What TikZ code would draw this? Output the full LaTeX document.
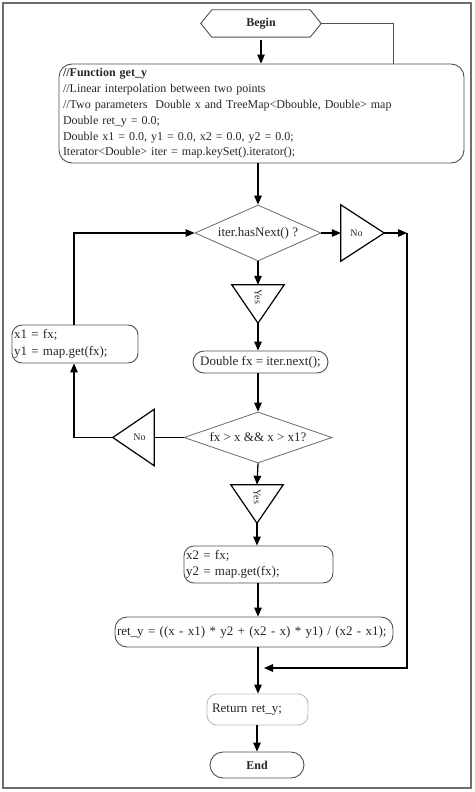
\documentclass[tikz,border=0pt]{standalone}
\usepackage{fontspec}
\setmainfont{Liberation Serif}
\usetikzlibrary{arrows.meta,shapes.geometric,shapes.misc}
\definecolor{framec}{HTML}{6E6E6E}
\definecolor{boxc}{HTML}{505050}
\definecolor{diac}{HTML}{6A6A6A}
\definecolor{lightc}{HTML}{BDBDBD}
\definecolor{textc}{HTML}{262626}
\begin{document}
\begin{tikzpicture}[x=1pt,y=-1pt,
  every node/.style={font=\fontsize{13}{16.5}\selectfont, inner sep=0pt, text=textc},
  box/.style={draw=boxc, line width=0.9pt, rounded corners=10pt, align=left, inner xsep=2pt},
  pill/.style={draw=boxc, line width=0.9pt, rounded rectangle},
  dia/.style={draw=diac, line width=0.8pt, diamond},
  tri/.style={draw=none, inner sep=0pt},
  triline/.style={draw=black, line width=1.2pt, line join=miter},
  conn/.style={draw=black, line width=1.3pt},
  arr/.style={conn, -{Triangle[length=9pt,width=7.5pt]}},
  small/.style={font=\fontsize{10}{11}\selectfont},
]
\useasboundingbox (0,0) rectangle (474,792);
\draw[draw=framec, line width=2pt] (3,3) rectangle (471,788);

% Begin
\node[tri, minimum width=120pt, minimum height=27pt, font=\fontsize{12}{14}\selectfont\bfseries] (begin) at (261,23.5) {Begin};
\draw[draw=boxc, line width=0.9pt] ([xshift=11pt]begin.north west) -- ([xshift=-11pt]begin.north east) -- (begin.east)
  -- ([xshift=-11pt]begin.south east) -- ([xshift=11pt]begin.south west) -- (begin.west) -- cycle;

% Function box
\node[box, rounded corners=13pt, minimum height=99pt, text width=397pt, inner xsep=4pt, font=\fontsize{12}{15.8}\selectfont] (func) at (261.5,113.5) {%
\textbf{//Function get\_y}\\
//Linear interpolation between two points\\
//Two parameters\ \ Double x and TreeMap<Dbouble, Double> map\\
Double ret\_y = 0.0;\\
Double x1 = 0.0, y1 = 0.0, x2 = 0.0, y2 = 0.0;\\
Iterator<Double> iter = map.keySet().iterator();};

% Diamond 1
\node[dia, aspect=2.25, minimum width=126pt, minimum height=56pt] (d1) at (258,233) {iter.hasNext() ?};

% No triangle 1
\node[tri, minimum width=43pt, minimum height=56pt] (no1) at (362.5,233) {};
\draw[triline] (no1.north west) -- (no1.east) -- (no1.south west) -- cycle;
\node[small] (no1t) at ([xshift=-6pt]no1.center) {No};

% Yes triangle 1
\node[tri, minimum width=52pt, minimum height=38pt] (yes1) at (258,304) {};
\draw[triline] (yes1.north west) -- (yes1.north east) -- (yes1.south) -- cycle;
\node[small, rotate=-90] (yes1t) at ([yshift=7pt]yes1.center) {Yes};

% fx box
\node[pill, minimum width=135pt, minimum height=22pt] (fx) at (260.5,362) {Double fx = iter.next();};

% x1 box
\node[box, minimum height=38pt, text width=122pt] (x1) at (75,344) {x1 = fx;\\y1 = map.get(fx);};

% Diamond 2
\node[dia, aspect=2.9, minimum width=148pt, minimum height=51pt] (d2) at (258,437.5) {fx > x \&\& x > x1?};

% No triangle 2
\node[tri, minimum width=41pt, minimum height=56pt] (no2) at (133.5,437.5) {};
\draw[triline] (no2.north east) -- (no2.west) -- (no2.south east) -- cycle;
\node[small] (no2t) at ([xshift=6pt]no2.center) {No};

% Yes triangle 2
\node[tri, minimum width=52pt, minimum height=38pt] (yes2) at (257,504) {};
\draw[triline] (yes2.north west) -- (yes2.north east) -- (yes2.south) -- cycle;
\node[small, rotate=-90] (yes2t) at ([yshift=7pt]yes2.center) {Yes};

% x2 box
\node[box, minimum height=37pt, text width=145pt] (x2) at (258.5,564.5) {x2 = fx;\\y2 = map.get(fx);};

% ret box
\node[box, rounded corners=12pt, minimum height=30pt, text width=274pt] (ret) at (254,632) {ret\_y = ((x - x1) * y2 + (x2 - x) * y1) / (x2 - x1);};

% Return box
\node[box, draw=lightc, minimum height=31pt, text width=91pt, inner xsep=5pt] (rtn) at (257.5,709.5) {Return ret\_y;};

% End
\node[pill, minimum width=94pt, minimum height=26pt, font=\fontsize{12}{14}\selectfont\bfseries] (end) at (257,765) {End};

% connectors
\coordinate (bj) at (393,64);
\draw[conn, line width=1pt, draw=boxc] (begin.east) -| (bj);
\draw[arr, shorten <=3pt] (begin.south) -- (begin.south |- func.north);
\draw[arr] (func.south -| d1.north) -- (d1.north);
\draw[arr] (d1.east) -- (no1.west);
\coordinate (rj) at (407,233);
\coordinate (mj) at (264,668);
\draw[arr] (no1.east) -- (rj);
\draw[arr] (rj) |- (mj);
\draw[arr] (d1.south) -- (yes1.north);
\draw[arr] (yes1.south) -- (yes1.south |- fx.north);
\draw[arr] (fx.south -| d2.north) -- (d2.north);
\draw[conn] (d2.west) -- (no2.east);
\draw[arr] (no2.west) -| (x1.south -| 74,0);
\draw[arr] (x1.north -| 74,0) |- (d1.west);
\draw[arr] (d2.south) -- (yes2.north);
\draw[arr] (yes2.south) -- (yes2.south |- x2.north);
\draw[arr] (x2.south -| 258,0) -- (258,0 |- ret.north);
\draw[arr] (ret.south -| 258,0) -- (258,0 |- rtn.north);
\draw[arr] (rtn.south -| 257,0) -- (257,0 |- end.north);
\end{tikzpicture}
\end{document}
